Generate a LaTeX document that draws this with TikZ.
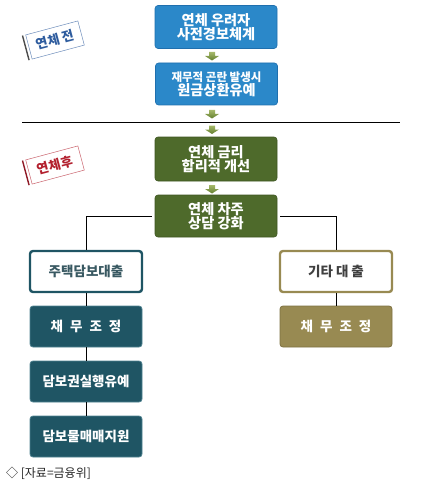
\documentclass[tikz,border=0pt]{standalone}
\usepackage{fontspec}
\newfontfamily\kr{Noto Sans CJK KR}
\usetikzlibrary{calc}
\definecolor{boxblue}{HTML}{2B88C9}
\definecolor{boxblueedge}{HTML}{1F6FAE}
\definecolor{boxgreen}{HTML}{4E6A2B}
\definecolor{boxgreenedge}{HTML}{3E5621}
\definecolor{teal}{HTML}{1F5564}
\definecolor{tealedge}{HTML}{4F8290}
\definecolor{olive}{HTML}{988A52}
\definecolor{oliveedge}{HTML}{7E7142}
\definecolor{arrowtop}{HTML}{A5B86A}
\definecolor{arrowbot}{HTML}{637F2E}
\definecolor{stampblue}{HTML}{2E5C9E}
\definecolor{stampred}{HTML}{B3202E}
\tikzset{
  flowbox/.style={rounded corners=3pt, minimum width=122pt, minimum height=43pt, inner sep=0pt, align=center, text=white, font=\kr\bfseries},
  bluebox/.style={flowbox, fill=boxblue, draw=boxblueedge, line width=0.6pt},
  greenbox/.style={flowbox, fill=boxgreen, draw=boxgreenedge, line width=0.6pt},
  subbox/.style={rounded corners=3pt, minimum width=112pt, minimum height=41pt, inner sep=0pt, align=center, font=\kr\bfseries\fontsize{13.5}{15}\selectfont},
  tealbox/.style={subbox, fill=teal, draw=tealedge, line width=0.8pt, text=white},
  olivebox/.style={subbox, fill=olive, draw=oliveedge, line width=0.8pt, text=white},
  tealwhite/.style={subbox, fill=white, draw=teal, line width=2.4pt, text=teal!70!black!85},
  olivewhite/.style={subbox, fill=white, draw=olive, line width=2.4pt, text=black!75},
  conn/.style={draw=black, line width=0.8pt},
  stampbox/.style={draw, line width=0.5pt, fill=white, minimum width=54pt, minimum height=25pt, inner sep=0pt, rotate=15, font=\kr\bfseries\fontsize{13}{14}\selectfont},
}
\newcommand{\greenarrow}[2]{%
  \shade[top color=arrowtop, bottom color=arrowbot] (#1-3,#2-4) -- (#1+3,#2-4) -- (#1+3,#2) -- (#1+7,#2) -- (#1,#2+4.5) -- (#1-7,#2) -- (#1-3,#2) -- cycle;}
\begin{document}
\begin{tikzpicture}[x=1pt,y=-1pt]
\useasboundingbox (0,0) rectangle (428,484);

% top boxes
\node[bluebox] (b1) at (216,27) {\fontsize{14.2}{17.5}\selectfont 연체 우려자\\\fontsize{14.2}{17.5}\selectfont 사전경보체계};
\node[bluebox, minimum height=42pt] (b2) at (216.5,84) {\fontsize{11.5}{16}\selectfont 재무적 곤란 발생시\\\fontsize{14.2}{17}\selectfont 원금상환유예};
\node[greenbox, minimum height=44pt] (b3) at (216,159) {\fontsize{14.2}{17.5}\selectfont 연체 금리\\\fontsize{14.2}{17.5}\selectfont 합리적 개선};
\node[greenbox, minimum height=42pt] (b4) at (216,216) {\fontsize{14.2}{17.5}\selectfont 연체 차주\\\fontsize{14.2}{17.5}\selectfont 상담 강화};

% separator
\coordinate (sepL) at (22,122);
\coordinate (sepR) at (400,122);
\draw[line width=0.9pt] (sepL) -- (sepR);

% arrows
\greenarrow{212}{56}
\greenarrow{212}{114}
\greenarrow{212}{129.5}
\greenarrow{212}{189}

% left column
\node[tealwhite] (h1) at (86,271.5) {주택담보대출};
\node[tealbox] (h2) at (86,326.5) {채\hspace{7pt}무\hspace{7pt}조\hspace{7pt}정};
\node[tealbox] (h3) at (86,381.5) {담보권실행유예};
\node[tealbox] (h4) at (86,436.5) {담보물매매지원};

% right column
\node[olivewhite] (o1) at (336,271.5) {기타\hspace{3pt}대\hspace{3pt}출};
\node[olivebox] (o2) at (336,326.5) {채\hspace{7pt}무\hspace{7pt}조\hspace{7pt}정};

% connectors
\draw[conn] ([xshift=-3pt]b4.west) -| (h1.north);
\draw[conn] ([xshift=3pt]b4.east) -| (o1.north);
\draw[conn] (h1.south) -- (h2.north);
\draw[conn] (h2.south) -- (h3.north);
\draw[conn] (h3.south) -- (h4.north);
\draw[conn] (o1.south) -- (o2.north);

% stamps
\node[stampbox, draw=stampblue!70, text=stampblue] (s1) at (55,40) {연체 전};
\draw[line width=1.4pt, black!70] ($(s1.north west)!-3pt!(s1.north east)$) -- ($(s1.south west)!-3pt!(s1.south east)$);
\node[stampbox, draw=stampred!70, text=stampred] (s2) at (55,165) {연체후};
\draw[line width=1.4pt, stampred!80!black] ($(s2.north west)!-3pt!(s2.north east)$) -- ($(s2.south west)!-3pt!(s2.south east)$);

% caption
\node[anchor=west, inner sep=0pt, font=\kr\fontsize{12}{13}\selectfont, text=black!85] (cap) at (6,473) {◇ [자료=금융위]};
\end{tikzpicture}
\end{document}
